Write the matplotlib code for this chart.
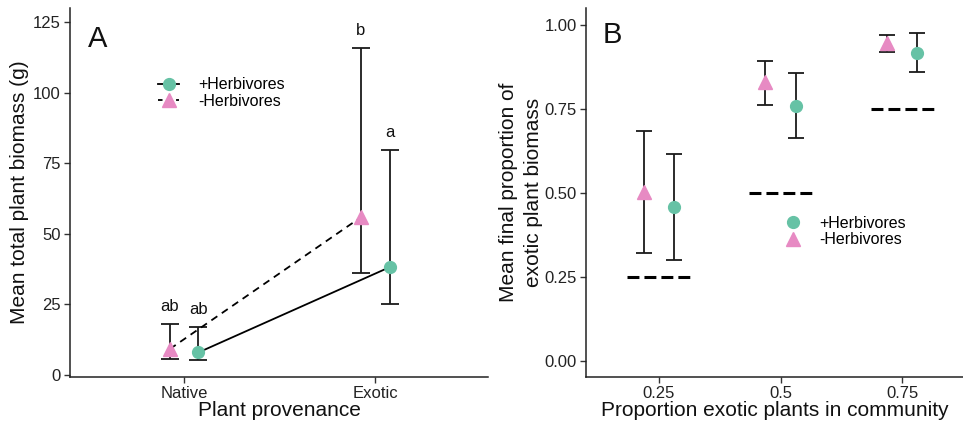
import matplotlib
matplotlib.use("Agg")
import matplotlib.pyplot as plt
from matplotlib.lines import Line2D
import numpy as np

plt.rcParams['font.family'] = ['Liberation Sans', 'DejaVu Sans']

GREEN = '#66C2A5'
PINK = '#E78AC3'

# ---- Panel A data ----
provenance = ['Native', 'Exotic']
a_plus_mean = [8.0, 38.2]
a_plus_lo = [5.3, 25.1]
a_plus_hi = [17.0, 79.8]
a_minus_mean = [9.2, 55.9]
a_minus_lo = [5.7, 36.2]
a_minus_hi = [18.0, 115.9]
a_minus_letters = ['ab', 'b']
a_plus_letters = ['ab', 'a']

# ---- Panel B data ----
prop_levels = [0.25, 0.5, 0.75]
prop_labels = ['0.25', '0.5', '0.75']
b_plus_mean = [0.457, 0.759, 0.916]
b_plus_lo = [0.300, 0.664, 0.859]
b_plus_hi = [0.615, 0.857, 0.975]
b_minus_mean = [0.504, 0.831, 0.947]
b_minus_lo = [0.320, 0.762, 0.919]
b_minus_hi = [0.685, 0.892, 0.971]

fig = plt.figure(figsize=(9.63, 4.26), dpi=100)
axA = fig.add_axes([0.0727, 0.115, 0.434, 0.866])
axB = fig.add_axes([0.6085, 0.115, 0.3915, 0.866])

TICK_FS = 12
TITLE_FS = 15
LEG_FS = 11.5

def style(ax):
    for s in ['top', 'right']:
        ax.spines[s].set_visible(False)
    for s in ['left', 'bottom']:
        ax.spines[s].set_linewidth(1.1)
        ax.spines[s].set_color('#222222')
    ax.tick_params(axis='both', labelsize=TICK_FS, length=4, width=1.0,
                   color='#333333', labelcolor='#222222', pad=2.5)

# ---- Panel A ----
xa = np.arange(1, len(provenance) + 1)
d = 0.075
xm = xa - d
xp = xa + d
eb_kw = dict(fmt='none', ecolor='#1a1a1a', elinewidth=1.3, capsize=6.5, capthick=1.3, zorder=2)
axA.errorbar(xm, a_minus_mean,
             yerr=[np.array(a_minus_mean) - np.array(a_minus_lo), np.array(a_minus_hi) - np.array(a_minus_mean)],
             **eb_kw)
axA.errorbar(xp, a_plus_mean,
             yerr=[np.array(a_plus_mean) - np.array(a_plus_lo), np.array(a_plus_hi) - np.array(a_plus_mean)],
             **eb_kw)
axA.plot(xm, a_minus_mean, color='black', ls=(0, (4, 3)), lw=1.3, zorder=3)
axA.plot(xp, a_plus_mean, color='black', ls='-', lw=1.3, zorder=3)
axA.plot(xm, a_minus_mean, ls='none', marker='^', ms=9.5, color=PINK, mec=PINK, zorder=4)
axA.plot(xp, a_plus_mean, ls='none', marker='o', ms=8.5, color=GREEN, mec=GREEN, zorder=4)
for x, hi, t in zip(xm, a_minus_hi, a_minus_letters):
    axA.text(x, hi + 3.5, t, ha='center', va='bottom', fontsize=12, color='#111111')
for x, hi, t in zip(xp, a_plus_hi, a_plus_letters):
    axA.text(x, hi + 3.5, t, ha='center', va='bottom', fontsize=12, color='#111111')
axA.set_xlim(0.403, 2.59)
axA.set_ylim(-0.7, 130)
axA.set_xticks(xa)
axA.set_xticklabels(provenance)
axA.set_yticks([0, 25, 50, 75, 100, 125])
style(axA)
axA.set_xlabel('Plant provenance', fontsize=TITLE_FS, labelpad=0, color='#111111')
axA.set_ylabel('Mean total plant biomass (g)', fontsize=TITLE_FS, labelpad=3, color='#111111')
axA.text(0.55, 119, 'A', fontsize=21, ha='center', va='center', color='#111111')

hA = [Line2D([], [], color='black', ls='-', lw=1.3, marker='o', ms=8.5, mfc=GREEN, mec=GREEN),
      Line2D([], [], color='black', ls=(0, (2.5, 2.5)), lw=1.3, marker='^', ms=9.5, mfc=PINK, mec=PINK)]
axA.legend(hA, ['+Herbivores', '-Herbivores'], loc='upper left', bbox_to_anchor=(0.195, 0.83),
           frameon=False, fontsize=LEG_FS, handlelength=1.35, handletextpad=1.15, labelspacing=0.1,
           borderaxespad=0)

# ---- Panel B ----
xb = np.array(prop_levels)
db = 0.031
for x in xb:
    axB.plot([x - 0.065, x + 0.065], [x, x], color='black', ls=(0, (3.9, 1.65)), lw=2.2, zorder=1)
ebB = dict(fmt='none', ecolor='#1a1a1a', elinewidth=1.3, capsize=6, capthick=1.3, zorder=2)
axB.errorbar(xb - db, b_minus_mean,
             yerr=[np.array(b_minus_mean) - np.array(b_minus_lo), np.array(b_minus_hi) - np.array(b_minus_mean)],
             **ebB)
axB.errorbar(xb + db, b_plus_mean,
             yerr=[np.array(b_plus_mean) - np.array(b_plus_lo), np.array(b_plus_hi) - np.array(b_plus_mean)],
             **ebB)
axB.plot(xb - db, b_minus_mean, ls='none', marker='^', ms=9.5, color=PINK, mec=PINK, zorder=4)
axB.plot(xb + db, b_plus_mean, ls='none', marker='o', ms=8.5, color=GREEN, mec=GREEN, zorder=4)
axB.set_xlim(0.1, 0.875)
axB.set_ylim(-0.048, 1.05)
axB.set_xticks(xb)
axB.set_xticklabels(prop_labels)
axB.set_yticks([0, 0.25, 0.5, 0.75, 1.0])
axB.set_yticklabels(['0.00', '0.25', '0.50', '0.75', '1.00'])
style(axB)
axB.set_xlabel('Proportion exotic plants in community', fontsize=TITLE_FS, labelpad=0, color='#111111')
axB.set_ylabel('Mean final proportion of\nexotic plant biomass', fontsize=TITLE_FS, labelpad=1,
               color='#111111', linespacing=1.4)
axB.text(0.155, 0.97, 'B', fontsize=21, ha='center', va='center', color='#111111')

hB = [Line2D([], [], ls='none', marker='o', ms=8.5, mfc=GREEN, mec=GREEN),
      Line2D([], [], ls='none', marker='^', ms=9.5, mfc=PINK, mec=PINK)]
axB.legend(hB, ['+Herbivores', '-Herbivores'], loc='upper left', bbox_to_anchor=(0.5, 0.455),
           frameon=False, fontsize=LEG_FS, handlelength=1.5, handletextpad=0.9, labelspacing=0.1,
           borderaxespad=0)

fig.savefig('out.png', dpi=100)
